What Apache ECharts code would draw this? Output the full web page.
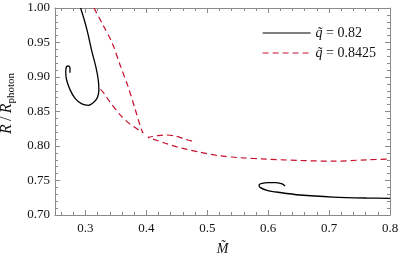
<!DOCTYPE html>
<html><head><meta charset="utf-8">
<script src="https://cdn.jsdelivr.net/npm/echarts@6/dist/echarts.min.js"></script>
<style>html,body{margin:0;padding:0;background:#fff}#c{width:399px;height:263px}</style>
</head><body><div id="c"></div>
<script>
// q̃ = 0.82 (black solid): spiral branch near top-left
const black1 = [[0.292,1.000],[0.298,0.983],[0.304,0.963],[0.310,0.939],[0.317,0.915],[0.321,0.896],[0.322,0.881],[0.320,0.871],[0.3145,0.864],[0.305,0.859],[0.294,0.861],[0.283,0.869],[0.275,0.881],[0.269,0.896],[0.2676,0.908],[0.269,0.915],[0.272,0.916],[0.2746,0.913],[0.2746,0.906]];
// q̃ = 0.82: branch at bottom right
const black2 = [[0.80,0.7242],[0.762,0.7246],[0.7065,0.726],[0.652,0.729],[0.6195,0.7326],[0.598,0.7358],[0.5866,0.740],[0.585,0.7435],[0.590,0.746],[0.600,0.747],[0.613,0.7468],[0.623,0.745],[0.6277,0.742]];
// q̃ = 0.8425 (red dashed): upper branch through first cusp
const red1 = [[0.314,1.000],[0.329,0.975],[0.344,0.949],[0.357,0.917],[0.370,0.886],[0.381,0.855],[0.391,0.826],[0.3945,0.819],[0.373,0.832],[0.357,0.845],[0.340,0.864],[0.329,0.878],[0.321,0.885]];
// q̃ = 0.8425: swallowtail and tail to the right
const red2 = [[0.475,0.807],[0.463,0.810],[0.447,0.8145],[0.431,0.816],[0.419,0.815],[0.406,0.813],[0.403,0.8125],[0.411,0.810],[0.431,0.804],[0.449,0.799],[0.467,0.795],[0.488,0.791],[0.518,0.786],[0.554,0.783],[0.598,0.781],[0.652,0.779],[0.706,0.778],[0.762,0.780],[0.80,0.781]];
const names = ['q̃ = 0.82', 'q̃ = 0.8425'];
const xRange = [0.25, 0.8];
const yRange = [0.70, 1.00];

const FONT = 'Liberation Serif';
const AX = '#8a8a8a';
const TXT = '#111';
function axisBase(show){
  return {
    axisLine:{show:true,onZero:false,lineStyle:{color:AX,width:1}},
    axisTick:{show:true,inside:true,length:5,lineStyle:{color:AX,width:1}},
    minorTick:{show:true,splitNumber:5,length:3,lineStyle:{color:AX,width:1}},
    splitLine:{show:false},
    axisLabel:{show:show}
  };
}
const chart = echarts.init(document.getElementById('c'), null, {renderer:'canvas'});
const blackStyle = {color:'#000', width:1.3, type:'solid'};
const redStyle = {color:'#c8102e', width:1.2, type:[6,4]};
function mk(name, data, style){
  return {type:'line', name:name, data:data, showSymbol:false, symbol:'none', smooth:0.3, clip:true,
    lineStyle:style, itemStyle:{color:style.color}, animation:false, xAxisIndex:0, yAxisIndex:0};
}
chart.setOption({
  animation:false,
  grid:{left:55, right:9, top:8, bottom:48, containLabel:false, outerBoundsMode:'none'},
  legend:{
    orient:'vertical', left:262, top:26, padding:0, itemWidth:48, itemHeight:14, itemGap:6,
    data:names, itemStyle:{opacity:0}, lineStyle:{width:1.2},
    formatter: n => '{i|q̃}' + n.slice(2),
    textStyle:{fontFamily:FONT, fontSize:14, color:TXT,
      rich:{i:{fontFamily:FONT, fontStyle:'italic', fontSize:14, color:TXT}}}
  },
  xAxis:[
    Object.assign(axisBase(true), {type:'value', position:'bottom', min:xRange[0], max:xRange[1], splitNumber:5,
      axisLabel:{show:true, showMinLabel:false, margin:7, color:TXT, fontFamily:FONT, fontSize:13, formatter:v=>v.toFixed(1)},
      name:'M̃', nameLocation:'middle', nameGap:27,
      nameTextStyle:{fontFamily:FONT, fontStyle:'italic', fontSize:14, color:TXT}}),
    Object.assign(axisBase(false), {type:'value', position:'top', min:xRange[0], max:xRange[1], splitNumber:5})
  ],
  yAxis:[
    Object.assign(axisBase(true), {type:'value', position:'left', min:yRange[0], max:yRange[1], splitNumber:6,
      axisLabel:{show:true, margin:5, color:TXT, fontFamily:FONT, fontSize:13, formatter:v=>v.toFixed(2)},
      name:'{i|R}\u2009/\u2009{i|R}{s|photon}', nameLocation:'middle', nameGap:36, nameRotate:90,
      nameTextStyle:{fontFamily:FONT, fontSize:16, color:TXT, padding:[0,0,0,16],
        rich:{i:{fontFamily:FONT, fontStyle:'italic', fontSize:16, color:TXT, lineHeight:20},
              s:{fontFamily:FONT, fontSize:11, color:TXT, verticalAlign:'bottom', lineHeight:20, padding:[6,0,0,0]}}}}),
    Object.assign(axisBase(false), {type:'value', position:'right', min:yRange[0], max:yRange[1], splitNumber:6})
  ],
  series:[
    mk(names[0], black1, blackStyle),
    mk(names[0], black2, blackStyle),
    mk(names[1], red1, redStyle),
    mk(names[1], red2, redStyle)
  ]
});
</script></body></html>
